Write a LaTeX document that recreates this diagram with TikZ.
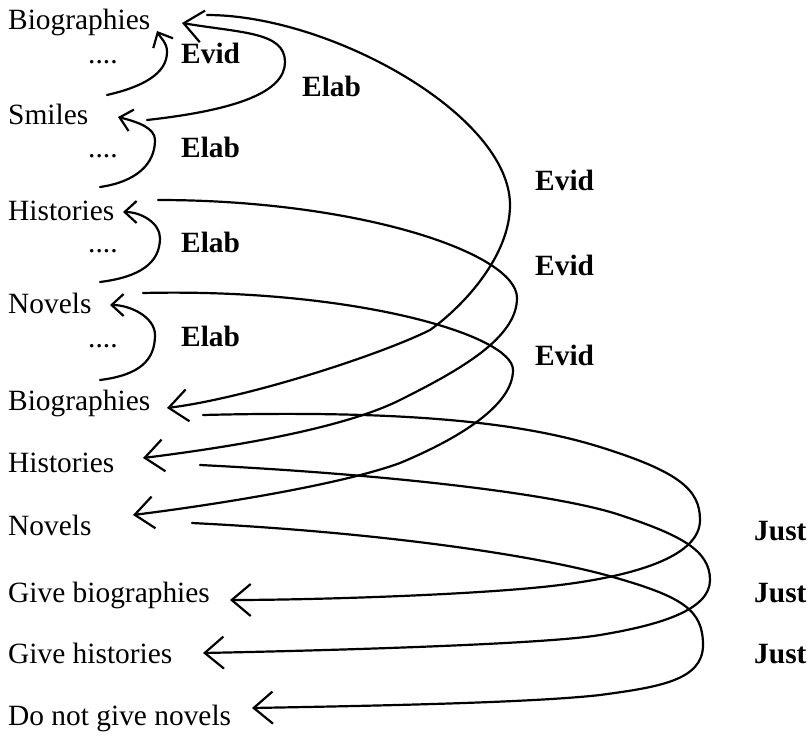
\documentclass[tikz,border=0pt]{standalone}
\usepackage{fontspec}
\setmainfont{Liberation Serif}
\usetikzlibrary{arrows.meta}
\begin{document}
\begin{tikzpicture}[x=1pt,y=-1pt,
  lbl/.style={anchor=base west, inner sep=0pt, font=\fontsize{29.4}{35}\selectfont},
  rel/.style={anchor=base west, inner sep=0pt, font=\fontsize{29.4}{35}\selectfont\bfseries},
  link/.style={line width=2.2pt, line cap=round, line join=round},
  bigarr/.style={link, -{Straight Barb[length=19pt,width=32pt]}},
  smallarr/.style={link, -{Straight Barb[length=12pt,width=22pt]}}]
\useasboundingbox (0,0) rectangle (809,736);
% left column
\node[lbl] (bioA) at (8,30) {Biographies};
\node[lbl] (dotA) at (88,63) {....};
\node[lbl] (smi) at (8,124) {Smiles};
\node[lbl] (dotB) at (88,157) {....};
\node[lbl] (hisA) at (8,220) {Histories};
\node[lbl] (dotC) at (88,252) {....};
\node[lbl] (novA) at (8,313) {Novels};
\node[lbl] (dotD) at (88,347) {....};
\node[lbl] (bioB) at (8,410) {Biographies};
\node[lbl] (hisB) at (8,472) {Histories};
\node[lbl] (novB) at (8,535) {Novels};
\node[lbl] (gbio) at (8,602) {Give biographies};
\node[lbl] (ghis) at (8,663) {Give histories};
\node[lbl] (gnov) at (8,725) {Do not give novels};
% relation labels
\node[rel] (rEvA) at (181,63) {Evid};
\node[rel] (rElA) at (302,96) {Elab};
\node[rel] (rElB) at (181,157) {Elab};
\node[rel] (rElC) at (181,252) {Elab};
\node[rel] (rElD) at (181,346) {Elab};
\node[rel] (rEvB) at (535,190) {Evid};
\node[rel] (rEvC) at (535,275) {Evid};
\node[rel] (rEvD) at (535,365) {Evid};
\node[rel] (rJuA) at (754,540) {Just};
\node[rel] (rJuB) at (754,602) {Just};
\node[rel] (rJuC) at (754,663) {Just};
% connector end points
\coordinate (s1s) at (107,95);   \coordinate (s1t) at (157,31);
\coordinate (s2s) at (100,187);  \coordinate (s2t) at (118,117);
\coordinate (s3s) at (100,282);  \coordinate (s3t) at (123,212);
\coordinate (s4s) at (100,380);  \coordinate (s4t) at (110,305);
\coordinate (l1s) at (147,120);  \coordinate (l1t) at (182,23);
\coordinate (e1s) at (207,15);   \coordinate (e1t) at (167,408);
\coordinate (e2s) at (158,200);  \coordinate (e2t) at (143,458);
\coordinate (e3s) at (143,293);  \coordinate (e3t) at (133,515);
\coordinate (j1s) at (203,415);  \coordinate (j1t) at (230,600);
\coordinate (j2s) at (200,465);  \coordinate (j2t) at (203,653);
\coordinate (j3s) at (192,523);  \coordinate (j3t) at (252,708);
% small arcs
\draw[smallarr] (s1s) .. controls +(35,-8) and +(0,22) .. (167,52)
                      .. controls +(0,-10) and +(4,8) .. (s1t);
\draw[smallarr] (s2s) .. controls +(35,-5) and +(0,25) .. (155,140)
                      .. controls +(0,-12) and +(20,5) .. (s2t);
\draw[smallarr] (s3s) .. controls +(40,-5) and +(0,25) .. (160,238)
                      .. controls +(0,-15) and +(18,0) .. (s3t);
\draw[smallarr] (s4s) .. controls +(40,-5) and +(0,25) .. (155,335)
                      .. controls +(0,-18) and +(20,0) .. (s4t);
% large elab
\draw[bigarr] (l1s) .. controls +(90,-10) and +(0,30) .. (285,62)
                    .. controls +(0,-30) and +(60,10) .. (l1t);
% large evid
\draw[bigarr] (e1s) .. controls +(123,0) and +(0,-90) .. (510,205)
                    .. controls +(0,50) and +(35,-25) .. (430,330)
                    .. controls +(-50,25) and +(80,-10) .. (e1t);
\draw[bigarr] (e2s) .. controls +(200,0) and +(0,-45) .. (517,298)
                    .. controls +(0,40) and +(60,-30) .. (400,400)
                    .. controls +(-60,30) and +(80,-10) .. (e2t);
\draw[bigarr] (e3s) .. controls +(210,-5) and +(0,-35) .. (513,370)
                    .. controls +(0,35) and +(60,-25) .. (400,463)
                    .. controls +(-60,22) and +(80,-10) .. (e3t);
% just
\draw[bigarr] (j1s) .. controls +(200,-5) and +(-80,-25) .. (600,447)
                    .. controls +(80,25) and +(0,-30) .. (700,520)
                    .. controls +(0,35) and +(80,-10) .. (560,585)
                    .. controls +(-80,10) and +(80,0) .. (j1t);
\draw[bigarr] (j2s) .. controls +(200,10) and +(-60,-20) .. (620,515)
                    .. controls +(60,20) and +(0,-30) .. (710,580)
                    .. controls +(0,30) and +(60,-10) .. (600,635)
                    .. controls +(-60,10) and +(100,-2) .. (j2t);
\draw[bigarr] (j3s) .. controls +(200,10) and +(-70,-20) .. (613,577)
                    .. controls +(70,20) and +(0,-35) .. (703,645)
                    .. controls +(0,35) and +(60,-8) .. (600,695)
                    .. controls +(-70,8) and +(110,-2) .. (j3t);
\end{tikzpicture}
\end{document}
